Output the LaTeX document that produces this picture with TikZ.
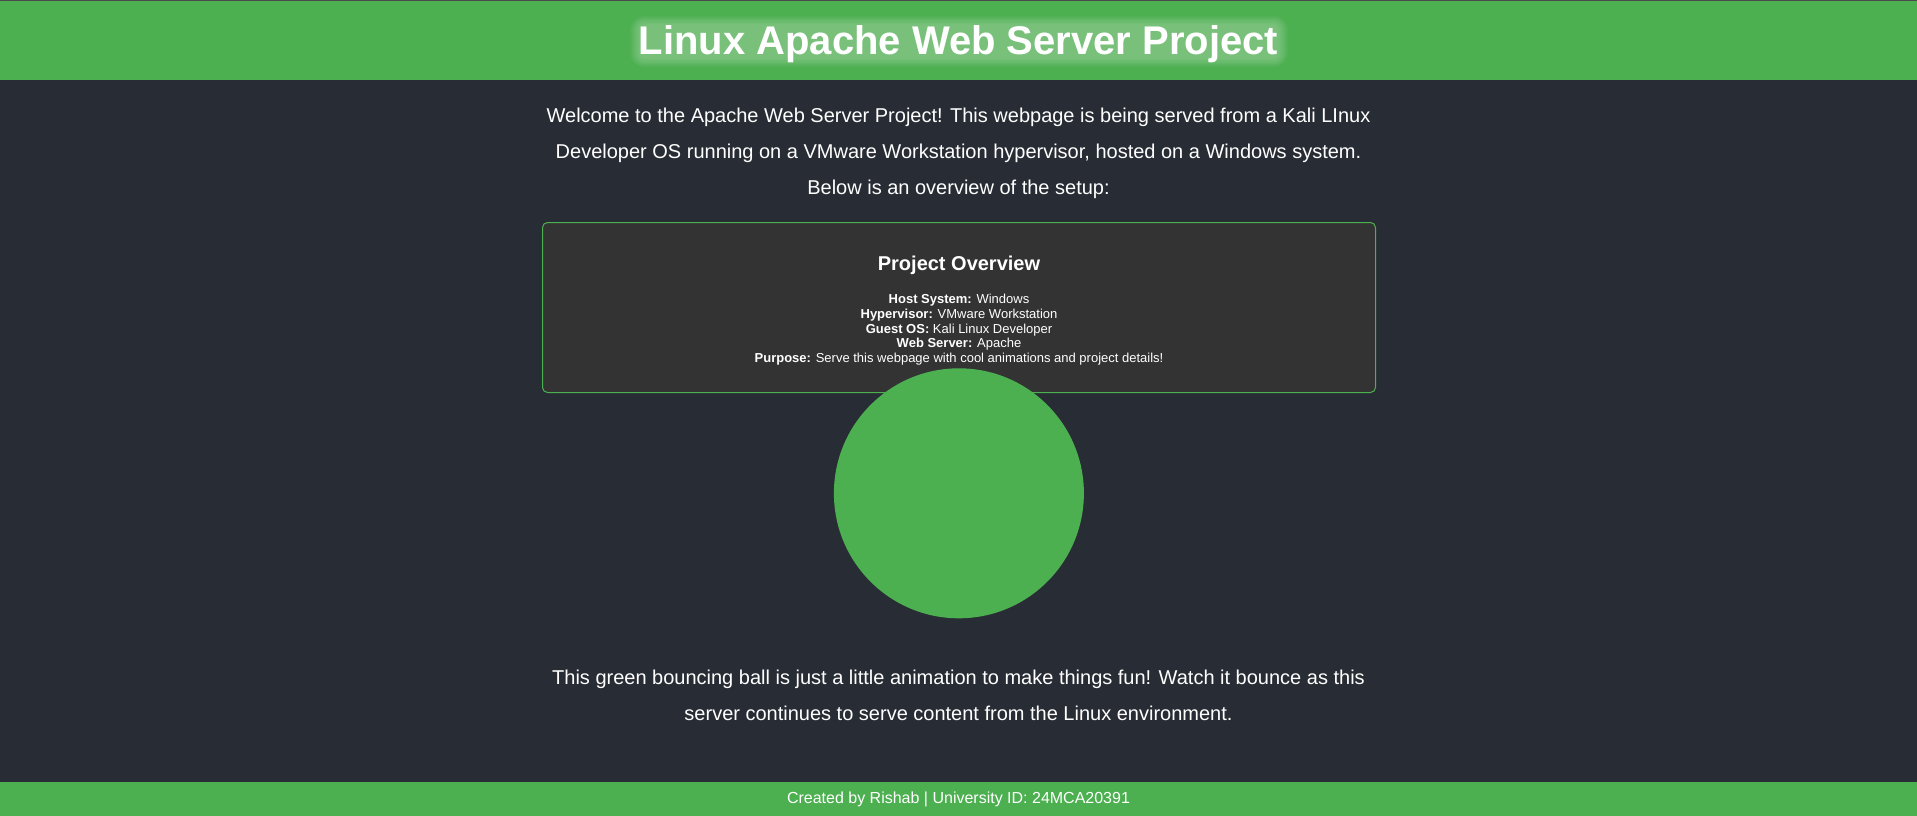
\documentclass[tikz,border=0pt]{standalone}
\usepackage{fontspec}
\setmainfont{Liberation Sans}
\definecolor{hdr}{HTML}{4CAF50}
\definecolor{pagebg}{HTML}{282C34}
\definecolor{card}{HTML}{333333}
\definecolor{topline}{HTML}{4A4A4A}
\tikzset{
  txt/.style={text=white, anchor=base, inner sep=0pt, outer sep=0pt},
  titlefont/.style={font=\bfseries\fontsize{40}{48}\selectfont},
  bodyfont/.style={font=\fontsize{20}{24}\selectfont},
  infofont/.style={font=\fontsize{13}{15}\selectfont},
  headfont/.style={font=\bfseries\fontsize{20}{24}\selectfont},
  footfont/.style={font=\fontsize{16}{19}\selectfont},
  glowlayer/.style={fill=white, opacity=0.045},
}
\begin{document}
\begin{tikzpicture}[x=1pt,y=-1pt]
\fill[pagebg] (0,0) rectangle (1917,816);
\useasboundingbox (0,0) rectangle (1917,816);
% header
\fill[hdr] (0,0) rectangle (1917,80);
\fill[topline] (0,0) rectangle (1917,1.5);
% soft glow behind the title
\foreach \k in {0,1,...,6}{
  \fill[glowlayer, rounded corners={14-1.5*\k}] (630+1.6*\k,16+1.4*\k) rectangle (1288-1.6*\k,67-1.4*\k);
}
\node[txt, titlefont] (title) at (958.5,55) {Linux Apache Web Server Project};
% intro
\node[txt, bodyfont] (p1) at (958.5,122) {Welcome to the Apache Web Server Project! This webpage is being served from a Kali LInux};
\node[txt, bodyfont] (p2) at (958.5,158.5) {Developer OS running on a VMware Workstation hypervisor, hosted on a Windows system.};
\node[txt, bodyfont] (p3) at (958.5,194.5) {Below is an overview of the setup:};
% card
\node[draw=hdr, fill=card, line width=1, rounded corners=5, minimum width=833, minimum height=170, inner sep=0] (card) at (959,307.5) {};
\node[txt, headfont] (head) at (959,270) {Project Overview};
\node[txt, infofont] (i1) at (959,303.3) {\textbf{Host System:} Windows};
\node[txt, infofont] (i2) at (959,318.2) {\textbf{Hypervisor:} VMware Workstation};
\node[txt, infofont] (i3) at (959,333.1) {\textbf{Guest OS:} Kali Linux Developer};
\node[txt, infofont] (i4) at (959,347.9) {\textbf{Web Server:} Apache};
\node[txt, infofont] (i5) at (959,362.7) {\textbf{Purpose:} Serve this webpage with cool animations and project details!};
% ball
\node[circle, fill=hdr, minimum size=250, inner sep=0] (ball) at (958.9,493.3) {};
% bottom text
\node[txt, bodyfont] (b1) at (958.5,684.3) {This green bouncing ball is just a little animation to make things fun! Watch it bounce as this};
\node[txt, bodyfont] (b2) at (958.5,720.2) {server continues to serve content from the Linux environment.};
% footer
\fill[hdr] (0,782) rectangle (1917,816);
\node[txt, footfont] (foot) at (958.5,803.3) {Created by Rishab | University ID: 24MCA20391};
\end{tikzpicture}
\end{document}
